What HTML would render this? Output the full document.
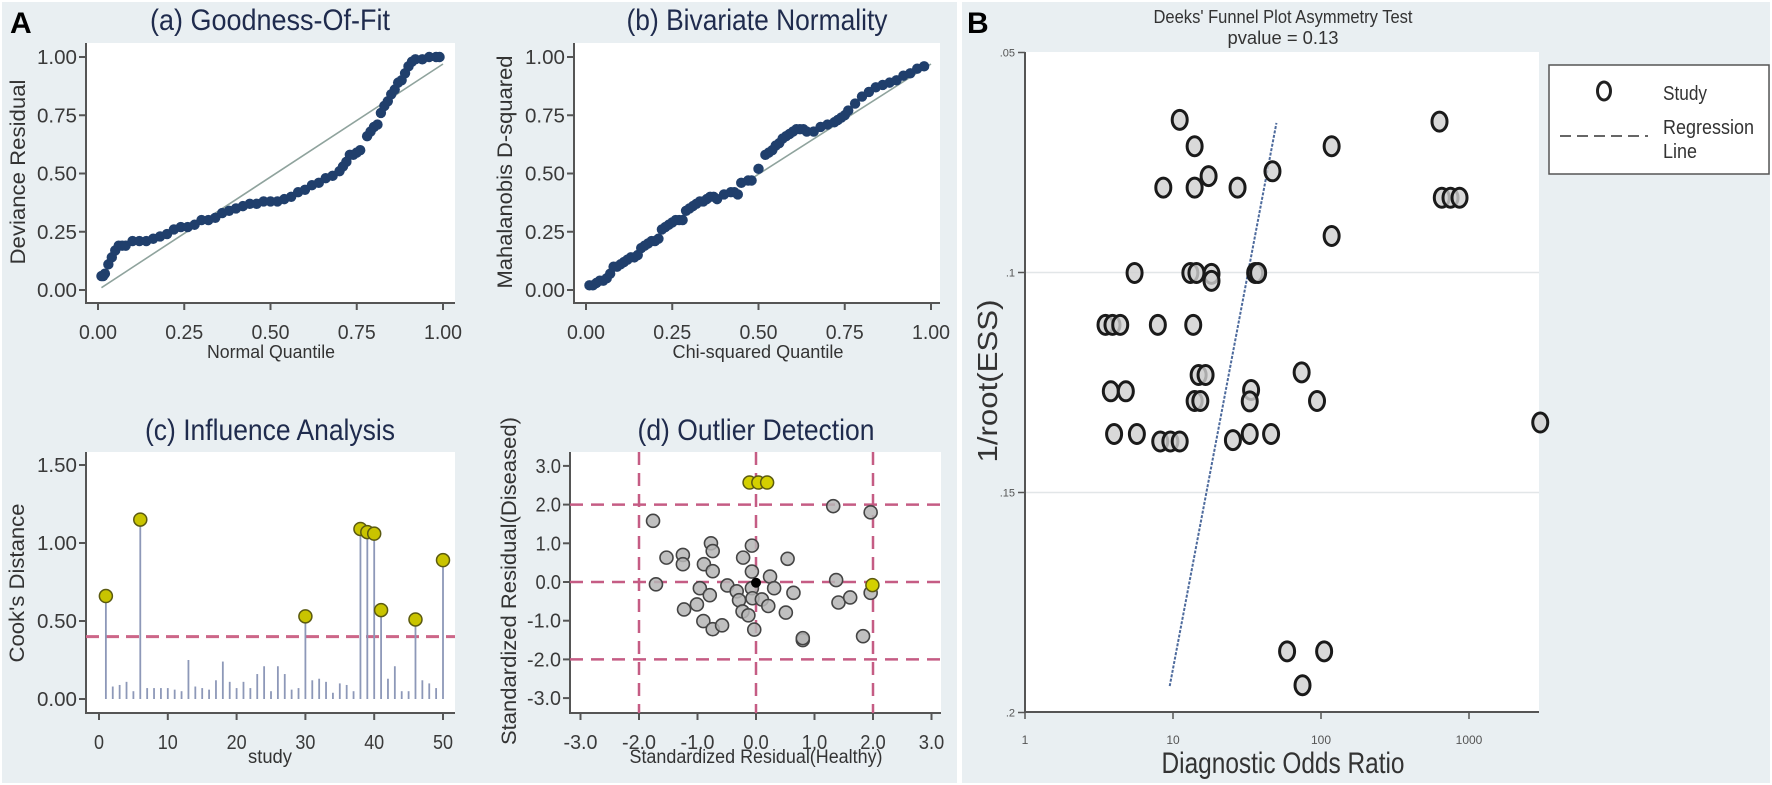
<!DOCTYPE html>
<html><head><meta charset="utf-8"><style>
html,body{margin:0;padding:0;background:#fff;}
svg{display:block;font-family:"Liberation Sans",Arial,sans-serif;}
</style></head><body>
<svg id="fig" width="1772" height="785" viewBox="0 0 1772 785">
<rect x="0" y="0" width="1772" height="785" fill="#ffffff"/>
<rect x="2" y="2" width="955" height="781" fill="#e9eff2"/>
<rect x="962" y="2" width="808" height="781" fill="#e9eff2"/>
<text x="10" y="33" font-size="30" font-weight="bold" fill="#000">A</text>
<text x="967" y="33" font-size="30" font-weight="bold" fill="#000">B</text>
<g id="layer"></g>
</svg>
<script>
// ---------- DATA ----------
// (a) Goodness-of-fit
const aX=[.01,.015,.02,.03,.04,.05,.06,.07,.08,.1,.12,.14,.16,.18,.2,.22,.24,.26,.28,.3,.32,.34,.36,.38,.4,.42,.44,.46,.48,.5,.52,.54,.56,.58,.6,.62,.64,.66,.68,.7,.71,.72,.73,.74,.75,.76,.78,.79,.8,.81,.82,.83,.84,.85,.86,.87,.88,.89,.9,.91,.92,.94,.96,.98,.99];
const aY=[.06,.06,.07,.11,.14,.17,.19,.19,.19,.21,.21,.21,.22,.23,.24,.26,.27,.27,.28,.30,.30,.31,.33,.34,.35,.36,.37,.37,.38,.38,.38,.39,.40,.42,.43,.45,.46,.48,.49,.51,.53,.55,.58,.58,.59,.60,.66,.68,.70,.71,.76,.79,.81,.84,.86,.89,.90,.93,.96,.98,.99,.99,1.0,1.0,1.0];
const aRef=[[0.01,0.01],[1,0.97]];
// (b) Bivariate normality
const bX=[.01,.02,.03,.04,.05,.06,.07,.08,.09,.10,.11,.12,.13,.14,.15,.16,.17,.18,.19,.20,.21,.22,.23,.24,.25,.26,.27,.28,.29,.30,.31,.32,.33,.34,.35,.36,.37,.38,.40,.42,.43,.44,.45,.47,.48,.50,.52,.53,.54,.55,.56,.57,.58,.59,.60,.61,.62,.63,.64,.66,.68,.70,.72,.73,.74,.75,.76,.78,.80,.82,.84,.86,.88,.90,.92,.94,.96,.98];
const bY=[.02,.02,.03,.04,.04,.05,.07,.10,.10,.11,.12,.13,.14,.14,.15,.18,.19,.20,.21,.21,.22,.26,.27,.28,.29,.30,.30,.30,.34,.35,.36,.37,.38,.38,.39,.40,.40,.39,.41,.42,.42,.41,.46,.47,.47,.52,.58,.59,.60,.62,.63,.65,.66,.67,.68,.69,.69,.69,.68,.68,.70,.71,.72,.73,.74,.75,.77,.80,.83,.85,.87,.88,.89,.90,.92,.93,.95,.96];
const bRef=[[0.45,0.45],[1,0.97]];
const qTicks=[0,0.25,0.5,0.75,1];
const qTickLabels=["0.00","0.25","0.50","0.75","1.00"];
// (c) Influence analysis
const cookD=[.66,.08,.09,.11,.05,1.15,.07,.07,.07,.07,.06,.05,.25,.08,.07,.06,.12,.24,.11,.07,.11,.07,.16,.21,.05,.21,.16,.06,.07,.53,.12,.13,.11,.04,.10,.09,.05,1.09,1.07,1.06,.57,.13,.21,.05,.05,.51,.12,.10,.07,.89];
const cookThreshold=0.40;
const cYTicks=[0,0.5,1,1.5];
const cYLabels=["0.00","0.50","1.00","1.50"];
const cXTicks=[0,10,20,30,40,50];
// (d) Outlier detection
const dHealthy=[1.32,-1.76,-1.53,-1.25,-1.25,-0.77,-0.74,-0.89,-0.74,-0.07,-0.22,-0.07,0.24,0.54,-1.71,-0.96,-0.79,-0.49,-0.33,-0.29,-0.07,-0.06,0.10,0.21,0.31,0.64,0.51,-0.23,-0.13,-0.03,-1.01,-1.23,-0.90,-0.74,-0.58,0.80,0.80,1.37,1.41,1.96,1.96,1.83,1.61];
const dDiseased=[1.96,1.58,0.63,0.70,0.46,1.00,0.80,0.46,0.28,0.94,0.63,0.27,0.14,0.60,-0.06,-0.16,-0.34,-0.09,-0.24,-0.47,-0.16,-0.42,-0.45,-0.62,-0.16,-0.28,-0.79,-0.76,-0.86,-1.23,-0.58,-0.71,-1.01,-1.22,-1.12,-1.50,-1.45,0.05,-0.53,1.80,-0.28,-1.40,-0.40];
const dOutH=[-0.11,0.04,0.19,1.99];
const dOutD=[2.57,2.57,2.57,-0.08];
const dCenter=[0.0,-0.02];
const dTicks=[-3,-2,-1,0,1,2,3];
const dTickLabels=["-3.0","-2.0","-1.0","0.0","1.0","2.0","3.0"];
const dRefLines=[-2,0,2];
// (B) Deeks funnel
const dor=[11.1,14,17.4,8.6,14,27.3,47,118,632,655,750,863,118,5.5,13.1,14.4,18.2,18.2,35.9,37.6,3.5,3.9,4.4,7.9,13.7,14.9,16.6,74,3.8,4.8,14,15.3,33.7,33,94,4.0,5.7,8.2,9.6,11.1,25.4,33,46,3030,59,105,75];
const invEss=[.0653,.0713,.0781,.0807,.0807,.0807,.0770,.0713,.0657,.0830,.0830,.0830,.0917,.1001,.1001,.1001,.1003,.1019,.1001,.1001,.1119,.1119,.1119,.1119,.1119,.1233,.1233,.1227,.1270,.1270,.1292,.1292,.1267,.1293,.1292,.1367,.1367,.1384,.1384,.1384,.1381,.1367,.1367,.1341,.1861,.1861,.1938];
const regDor=[9.5,50];
const regEss=[.194,.066];
const fYTicks=[.05,.1,.15,.2];
const fYLabels=[".05",".1",".15",".2"];
const fXTicks=[1,10,100,1000];
const fXLabels=["1","10","100","1000"];

// ---------- SCALES ----------
const NS="http://www.w3.org/2000/svg";
const layer=document.getElementById('layer');
const axA={x:v=>98+345*v,y:v=>290-233*v};
const axB={x:v=>586+345*v,y:v=>290-233*v};
const axC={x:v=>99+6.88*v,y:v=>699-156*v};
const axD={x:v=>756+58.5*v,y:v=>582-38.7*v};
const axF={x:v=>1025+148*Math.log10(v),y:v=>52.5+4400*(v-0.05)};

function el(tag,attrs){const e=document.createElementNS(NS,tag);for(const k in attrs)e.setAttribute(k,attrs[k]);layer.appendChild(e);return e;}
function label(x,y,s,size,anchor,len,fill,rot){
  const t=el('text',{x:x,y:y,'font-size':size,'text-anchor':anchor,fill:fill});
  if(len){t.setAttribute('textLength',len);t.setAttribute('lengthAdjust','spacingAndGlyphs');}
  if(rot)t.setAttribute('transform','rotate(-90 '+x+' '+y+')');
  t.textContent=s;return t;}

// ---------- PLOT FRAMES ----------
function frame(x0,y0,x1,y1,name){
  const r=el('rect',{x:x0,y:y0,width:x1-x0,height:y1-y0,fill:'#fff'});
  
  
}
frame(86,43,455,303,'plot-area-a');
frame(574,43,940,303,'plot-area-b');
frame(86,452,455,713,'plot-area-c');
frame(570,452,941,713,'plot-area-d');
frame(1025,52,1539,712,'plot-area-funnel');

function axes(x0,y0,x1,y1,name){
  const p=el('path',{d:'M'+x0+' '+y0+' V'+y1+' H'+x1,fill:'none',stroke:'#555',"stroke-width":2});
  
  
}
axes(86,43,455,303,'axes-a');
axes(574,43,940,303,'axes-b');
axes(86,452,455,713,'axes-c');
axes(570,452,941,713,'axes-d');

// ---------- TITLES ----------
function title(x,y,s,len,name){
  const t=label(x,y,s,30,'middle',len,'#1f2b4d');
  
  
}
title(270,30,'(a) Goodness-Of-Fit',240,'title-a');
title(757,30,'(b) Bivariate Normality',261,'title-b');
title(270,440,'(c) Influence Analysis',250,'title-c');
title(756,440,'(d) Outlier Detection',237,'title-d');

function axTitle(x,y,s,size,len,rot,name){
  const t=label(x,y,s,size,'middle',len,'#333',rot);
  
  
}
axTitle(25,172,'Deviance Residual',21,185,true,'y-axis-title-a');
axTitle(512,172,'Mahalanobis D-squared',21,233,true,'y-axis-title-b');
axTitle(24,583,"Cook's Distance",21,159,true,'y-axis-title-c');
axTitle(516,581,'Standardized Residual(Diseased)',21,328,true,'y-axis-title-d');
axTitle(271,358,'Normal Quantile',18,128,false,'x-axis-title-a');
axTitle(758,358,'Chi-squared Quantile',18,171,false,'x-axis-title-b');
axTitle(270,763,'study',19,44,false,'x-axis-title-c');
axTitle(756,763,'Standardized Residual(Healthy)',19,253,false,'x-axis-title-d');

// ---------- TICKS ----------
function yTicks(ax,axisX,vals,labs,len,name){
  for(let i=0;i<vals.length;i++){
    const y=ax.y(vals[i]);
    const l=el('line',{x1:axisX-7,x2:axisX,y1:y,y2:y,stroke:'#555','stroke-width':2});
    
    
    const t=label(axisX-9,y+7,labs[i],20,'end',len*labs[i].length/4,'#3a3a3a');
    
    
  }
}
function xTicks(ax,axisY,vals,labs,len,name){
  for(let i=0;i<vals.length;i++){
    const x=ax.x(vals[i]);
    const l=el('line',{x1:x,x2:x,y1:axisY,y2:axisY+7,stroke:'#555','stroke-width':2});
    
    
    const t=label(x,axisY+36,labs[i],20,'middle',len*labs[i].length/4,'#3a3a3a');
    
    
  }
}
yTicks(axA,86,qTicks,qTickLabels,40,'y-axis-a');
yTicks(axB,574,qTicks,qTickLabels,40,'y-axis-b');
xTicks(axA,303,qTicks,qTickLabels,38,'x-axis-a');
xTicks(axB,303,qTicks,qTickLabels,38,'x-axis-b');
yTicks(axC,86,cYTicks,cYLabels,40,'y-axis-c');
xTicks(axC,713,cXTicks,cXTicks.map(String),40,'x-axis-c');
yTicks(axD,570,dTicks,dTickLabels,34,'y-axis-d');
xTicks(axD,713,dTicks,dTickLabels,34,'x-axis-d');

// ---------- (a) & (b) ----------
function refLine(ax,pts,name){
  const l=el('line',{x1:ax.x(pts[0][0]),y1:ax.y(pts[0][1]),x2:ax.x(pts[1][0]),y2:ax.y(pts[1][1]),stroke:'#8fa39d','stroke-width':1.6});
  
  
}
refLine(axA,aRef,'reference-line-a');
refLine(axB,bRef,'reference-line-b');
function dots(ax,xs,ys,name){
  for(let i=0;i<xs.length;i++){
    const c=el('circle',{cx:ax.x(xs[i]),cy:ax.y(ys[i]),r:5.2,fill:'#203f6c'});
    
    
  }
}
dots(axA,aX,aY,'residual-point');
dots(axB,bX,bY,'mahalanobis-point');

// ---------- (c) ----------
const thr=el('line',{x1:86,x2:455,y1:axC.y(cookThreshold),y2:axC.y(cookThreshold),stroke:'#cc6688','stroke-width':3,'stroke-dasharray':'13 7'});


for(let i=0;i<cookD.length;i++){
  const x=axC.x(i+1);
  const s=el('line',{x1:x,x2:x,y1:axC.y(0),y2:axC.y(cookD[i]),stroke:'#8d98b8','stroke-width':1.8});
  
  
  if(cookD[i]>cookThreshold){
    const m=el('circle',{cx:x,cy:axC.y(cookD[i]),r:6.5,fill:'#c9c400',stroke:'#5b5a10','stroke-width':1.5});
    
    
  }
}

// ---------- (d) ----------
for(const v of dRefLines){
  const h=el('line',{x1:570,x2:941,y1:axD.y(v),y2:axD.y(v),stroke:'#c55c84','stroke-width':2.5,'stroke-dasharray':'13 8'});
  
  
  const vl=el('line',{x1:axD.x(v),x2:axD.x(v),y1:452,y2:713,stroke:'#c55c84','stroke-width':2.5,'stroke-dasharray':'13 8'});
  
  
}
for(let i=0;i<dHealthy.length;i++){
  const c=el('circle',{cx:axD.x(dHealthy[i]),cy:axD.y(dDiseased[i]),r:6.5,fill:'#b5b5b5','fill-opacity':0.85,stroke:'#444','stroke-width':1.6});
  
  
}
for(let i=0;i<dOutH.length;i++){
  const c=el('circle',{cx:axD.x(dOutH[i]),cy:axD.y(dOutD[i]),r:6.5,fill:'#d4d000',stroke:'#5b5a10','stroke-width':1.5});
  
  
}
const cen=el('circle',{cx:axD.x(dCenter[0]),cy:axD.y(dCenter[1]),r:5,fill:'#000'});



// ---------- (B) funnel ----------
for(let i=1;i<fYTicks.length-1;i++){
  const g=el('line',{x1:1025,x2:1539,y1:axF.y(fYTicks[i]),y2:axF.y(fYTicks[i]),stroke:'#e2e6e8','stroke-width':1.5});
  
  
}
axes(1025,52,1539,712,'axes-funnel');
for(let i=0;i<fYTicks.length;i++){
  const y=axF.y(fYTicks[i]);
  const l=el('line',{x1:1018,x2:1025,y1:y,y2:y,stroke:'#555','stroke-width':1.5});
  
  
  const t=label(1015,y+4,fYLabels[i],11,'end',null,'#555');
  
  
}
for(let i=0;i<fXTicks.length;i++){
  const x=axF.x(fXTicks[i]);
  const l=el('line',{x1:x,x2:x,y1:712,y2:719,stroke:'#555','stroke-width':1.5});
  
  
  const t=label(x,744,fXLabels[i],12,'middle',null,'#555');
  
  
}
const rl=el('line',{x1:axF.x(regDor[0]),y1:axF.y(regEss[0]),x2:axF.x(regDor[1]),y2:axF.y(regEss[1]),stroke:'#4d6a9c','stroke-width':2,'stroke-dasharray':'3 1.5'});


for(let i=0;i<dor.length;i++){
  const c=el('ellipse',{cx:axF.x(dor[i]),cy:axF.y(invEss[i]),rx:7.5,ry:9.5,fill:'#cfcfcf','fill-opacity':0.8,stroke:'#1a1a1a','stroke-width':3});
  
  
}
let t;
t=label(1283,23,"Deeks' Funnel Plot Asymmetry Test",18,'middle',259,'#333');


t=label(1283,44,'pvalue =  0.13',18,'middle',111,'#333');


t=label(1283,773,'Diagnostic Odds Ratio',30,'middle',243,'#333');


t=label(997,381,'1/root(ESS)',28,'middle',163,'#333',true);


// legend
const lg=el('rect',{x:1549,y:65,width:220,height:109,fill:'#fff',stroke:'#555','stroke-width':1.5});


const lo=el('ellipse',{cx:1604,cy:91,rx:6.5,ry:9,fill:'none',stroke:'#222','stroke-width':3});


const ld=el('line',{x1:1560,x2:1648,y1:136,y2:136,stroke:'#666','stroke-width':2,'stroke-dasharray':'11 6'});


t=label(1663,100,'Study',20,'start',44,'#333');


t=label(1663,134,'Regression',20,'start',91,'#333');


t=label(1663,158,'Line',20,'start',34,'#333');


</script>
</body></html>
